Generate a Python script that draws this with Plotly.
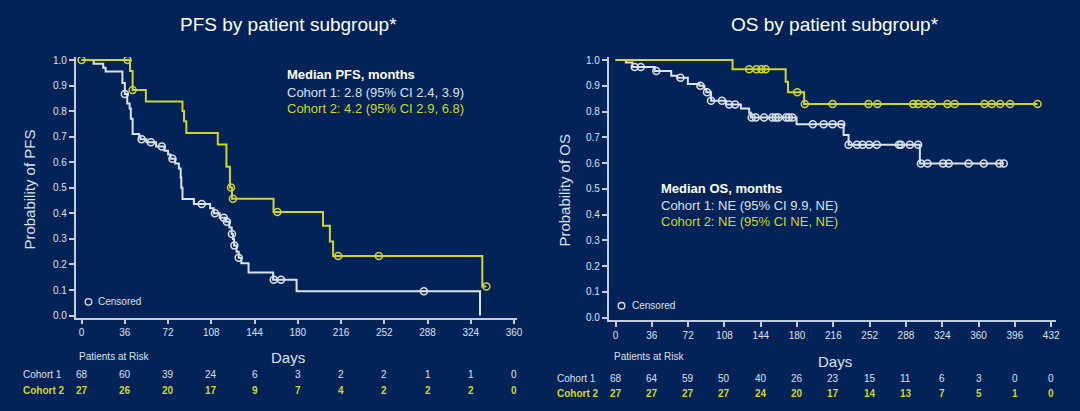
import numpy as np
import plotly.graph_objects as go

W, H = 1080, 411
BG = "#012358"
C1 = "#dbe2ec"
C2 = "#d2d622"
AX = "#c3ccd9"
FONT = "Arial, Liberation Sans, sans-serif"

# ---------------- data ----------------
pfs_ticks = [0, 36, 72, 108, 144, 180, 216, 252, 288, 324, 360]
os_ticks = [0, 36, 72, 108, 144, 180, 216, 252, 288, 324, 360, 396, 432]

pfs_c1_t = [0, 10, 18, 20, 34, 36, 38, 40, 41, 42.5, 48, 49, 54, 62, 69, 72, 74, 78, 81, 82.5, 83, 84,
            93.5, 107, 110, 115, 120, 123, 125, 126, 127, 129, 130.8, 133, 139, 159.5, 179, 331.7]
pfs_c1_s = [1.0, 0.985, 0.97, 0.955, 0.91, 0.867, 0.83, 0.81, 0.77, 0.71, 0.70, 0.69, 0.678, 0.662, 0.645,
            0.63, 0.614, 0.595, 0.575, 0.54, 0.50, 0.456, 0.437, 0.42, 0.40, 0.383, 0.367, 0.345, 0.319,
            0.30, 0.274, 0.25, 0.226, 0.205, 0.169, 0.14, 0.095, 0.0]
pfs_c1_end = 331.7
pfs_c1_cens = [36, 50, 57.7, 66.8, 75.6, 100, 111, 118.4, 121, 125.2, 127.2, 130.8, 160, 166, 285]

pfs_c2_t = [0, 40.3, 42.5, 53.5, 84, 85.3, 87.2, 113.4, 120.6, 123.5, 125.2, 159.8, 201, 206.7, 209.4, 333.6]
pfs_c2_s = [1.0, 0.957, 0.883, 0.838, 0.80, 0.76, 0.714, 0.669, 0.582, 0.501, 0.457, 0.405, 0.351,
            0.29, 0.233, 0.114]
pfs_c2_end = 337
pfs_c2_cens = [0, 38.3, 42.5, 124.4, 126, 163, 213.6, 247.5, 337]

os_c1_t = [0, 10.2, 16.8, 38.8, 55.2, 61.2, 71.7, 83.1, 88.1, 90, 94.7, 109.5, 124.3, 132.5, 134.1,
           179.5, 226.2, 231.1, 301.8]
os_c1_s = [1.0, 0.99, 0.973, 0.957, 0.939, 0.931, 0.907, 0.90, 0.887, 0.875, 0.842, 0.827, 0.812,
           0.795, 0.777, 0.751, 0.709, 0.671, 0.598]
os_c1_end = 385
os_c1_cens = [19, 25, 40.4, 64.4, 84.1, 90.7, 94.7, 105.5, 112.7, 118.6, 135, 139, 147.3, 155.5, 158.8,
              161.5, 169.3, 171.9, 175.3, 195.6, 206.4, 215.3, 223.9, 231.1, 239.4, 244.9, 251.5,
              259.1, 281.1, 283.1, 291.9, 300.1, 302.8, 309.4, 324.8, 330.4, 350.1, 365.2, 380.7, 385]

os_c2_t = [0, 116, 168.7, 171, 187.0]
os_c2_s = [1.0, 0.964, 0.916, 0.875, 0.829]
os_c2_end = 418.5
os_c2_cens = [132.5, 139.7, 144.7, 148.9, 180.2, 187.7, 215.3, 250.8, 259.7, 295.2, 300.1, 306.7,
              313.9, 329.1, 336.3, 365.9, 373.1, 381.4, 391.3, 418.5]

pfs_risk_c1 = [68, 60, 39, 24, 6, 3, 2, 2, 1, 1, 0]
pfs_risk_c2 = [27, 26, 20, 17, 9, 7, 4, 2, 2, 2, 0]
os_risk_c1 = [68, 64, 59, 50, 40, 26, 23, 15, 11, 6, 3, 0, 0]
os_risk_c2 = [27, 27, 27, 27, 24, 20, 17, 14, 13, 7, 5, 1, 0]


def px(x):
    return x / W


def py(y):
    return (H - y) / H


def step_xy(t, s, end):
    xs = list(t)
    ys = list(s)
    if end > xs[-1]:
        xs.append(end)
        ys.append(ys[-1])
    return xs, ys


def at(t, s, times):
    idx = np.searchsorted(np.array(t), np.array(times), side="right") - 1
    return [s[i] for i in idx]


fig = go.Figure()

curves = [
    (pfs_c1_t, pfs_c1_s, pfs_c1_end, pfs_c1_cens, C1, "x", "y"),
    (pfs_c2_t, pfs_c2_s, pfs_c2_end, pfs_c2_cens, C2, "x", "y"),
    (os_c1_t, os_c1_s, os_c1_end, os_c1_cens, C1, "x2", "y2"),
    (os_c2_t, os_c2_s, os_c2_end, os_c2_cens, C2, "x2", "y2"),
]
for t, s, end, cens, col, xa, ya in curves:
    xs, ys = step_xy(t, s, end)
    fig.add_trace(go.Scatter(x=xs, y=ys, mode="lines", line=dict(color=col, width=2, shape="hv"),
                             xaxis=xa, yaxis=ya, showlegend=False, hoverinfo="skip"))
    fig.add_trace(go.Scatter(x=cens, y=at(t, s, cens), mode="markers",
                             marker=dict(symbol="circle-open", size=7, color=col, line=dict(width=1.5, color=col)),
                             xaxis=xa, yaxis=ya, showlegend=False, hoverinfo="skip"))

axis_common = dict(showline=True, linecolor=AX, linewidth=1.5, ticks="outside", ticklen=5,
                   tickwidth=1.5, tickcolor=AX, showgrid=False, zeroline=False,
                   tickfont=dict(family=FONT, size=10, color=C1))

fig.update_layout(
    width=W, height=H, margin=dict(l=0, r=0, t=0, b=0),
    paper_bgcolor=BG, plot_bgcolor=BG, showlegend=False,
    font=dict(family=FONT, color=C1),
    xaxis=dict(domain=[px(76), px(520)], range=[-5, 362.6], tickvals=pfs_ticks, anchor="y", **axis_common),
    yaxis=dict(domain=[py(320), py(55)], range=[-0.0077, 1.0115], tickvals=[i / 10 for i in range(11)],
               tickformat=".1f", anchor="x", **axis_common),
    xaxis2=dict(domain=[px(612), px(1062)], range=[-6.9, 436.9], tickvals=os_ticks, anchor="y2", **axis_common),
    yaxis2=dict(domain=[py(323), py(55)], range=[-0.0115, 1.0115], tickvals=[i / 10 for i in range(11)],
                tickformat=".1f", anchor="x2", **axis_common),
)

ann = []


def text(x, y, s, size=10, color=C1, xanchor="center", bold=False, angle=0):
    ann.append(dict(x=px(x), y=py(y), xref="paper", yref="paper", text=("<b>%s</b>" % s) if bold else s,
                    showarrow=False, xanchor=xanchor, yanchor="middle", textangle=angle,
                    font=dict(family=FONT, size=size, color=color)))


# titles
text(290, 22, "PFS by patient subgroup*", size=19, color="#ffffff")
text(840, 22, "OS by patient subgroup*", size=19, color="#ffffff")
text(30, 190, "Probability of PFS", size=15, angle=-90)
text(568, 190, "Probability of OS", size=15, angle=-90)

# medians
text(287, 73, "Median PFS, months", size=13, color="#ffffff", xanchor="left", bold=True)
text(287, 91, "Cohort 1: 2.8 (95% CI 2.4, 3.9)", size=13, xanchor="left")
text(287, 107, "Cohort 2: 4.2 (95% CI 2.9, 6.8)", size=13, color=C2, xanchor="left")
text(663, 189, "Median OS, months", size=13, color="#ffffff", xanchor="left", bold=True)
text(663, 206, "Cohort 1: NE (95% CI 9.9, NE)", size=13, xanchor="left")
text(663, 222, "Cohort 2: NE (95% CI NE, NE)", size=13, color=C2, xanchor="left")

# censored legends
text(97, 304, "Censored", size=10, xanchor="left")
text(634, 308, "Censored", size=10, xanchor="left")
shapes = []
for cx, cy in [(89, 304), (625, 308)]:
    shapes.append(dict(type="circle", xref="paper", yref="paper", x0=px(cx - 3.3), x1=px(cx + 3.3),
                       y0=py(cy + 3.3), y1=py(cy - 3.3), line=dict(color=C1, width=1.3)))

# risk tables
text(77, 360, "Patients at Risk", size=10, xanchor="left")
text(290, 361, "Days", size=15)
text(21, 378, "Cohort 1", size=10, xanchor="left")
text(21, 394, "Cohort 2", size=10, color=C2, xanchor="left", bold=True)
text(615, 360, "Patients at Risk", size=10, xanchor="left")
text(840, 365, "Days", size=15)
text(558, 382, "Cohort 1", size=10, xanchor="left")
text(558, 397, "Cohort 2", size=10, color=C2, xanchor="left", bold=True)

for xref, ticks, r1, r2, y1, y2 in [("x", pfs_ticks, pfs_risk_c1, pfs_risk_c2, 378, 394),
                                     ("x2", os_ticks, os_risk_c1, os_risk_c2, 382, 397)]:
    for d, a, b in zip(ticks, r1, r2):
        ann.append(dict(x=d, y=py(y1), xref=xref, yref="paper", text=str(a), showarrow=False,
                        xanchor="center", yanchor="middle", font=dict(family=FONT, size=10, color=C1)))
        ann.append(dict(x=d, y=py(y2), xref=xref, yref="paper", text="<b>%d</b>" % b, showarrow=False,
                        xanchor="center", yanchor="middle", font=dict(family=FONT, size=10, color=C2)))

fig.update_layout(annotations=ann, shapes=shapes)
fig.write_html("out.html", config={"displayModeBar": False},
               post_script="document.body.style.margin='0px';document.body.style.overflow='hidden';")
